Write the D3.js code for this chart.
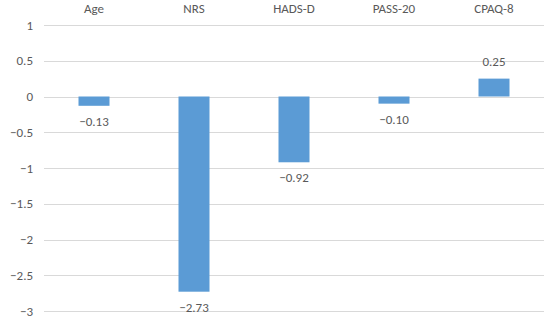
<!DOCTYPE html>
<html>
<head>
<meta charset="utf-8">
<script src="https://cdn.jsdelivr.net/npm/d3@7"></script>
<style>
  body { margin: 0; background: #fff; }
  text { font-family: Calibri, Carlito, "Open Sans", sans-serif; fill: #595959; }
</style>
</head>
<body>
<div id="chart"></div>
<script>
// Chart data
const categories = ['Age', 'NRS', 'HADS-D', 'PASS-20', 'CPAQ-8'];
const values = [-0.13, -2.73, -0.92, -0.10, 0.25];
const valueLabels = ['\u22120.13', '\u22122.73', '\u22120.92', '\u22120.10', '0.25'];
const yTicks = [1, 0.5, 0, -0.5, -1, -1.5, -2, -2.5, -3];
const yTickLabels = ['1', '0.5', '0', '\u22120.5', '\u22121', '\u22121.5', '\u22122', '\u22122.5', '\u22123'];

const width = 550;
const height = 320;
const plotLeft = 44;
const plotRight = 544;
const plotTop = 25;
const plotBottom = 311;

const svg = d3
  .select('#chart')
  .append('svg')
  .attr('width', width)
  .attr('height', height);

const x = d3.scaleBand().domain(categories).range([plotLeft, plotRight]).paddingInner(0.69).paddingOuter(0.345);
const y = d3.scaleLinear().domain([-3, 1]).range([plotBottom, plotTop]);

// Gridlines
svg
  .selectAll('.grid')
  .data(yTicks)
  .enter()
  .append('line')
  .attr('x1', plotLeft)
  .attr('x2', plotRight)
  .attr('y1', (d) => Math.round(y(d)) + 0.5)
  .attr('y2', (d) => Math.round(y(d)) + 0.5)
  .attr('stroke', '#d9d9d9')
  .attr('stroke-width', 1);

// Y tick labels
svg
  .selectAll('.ytick')
  .data(yTicks)
  .enter()
  .append('text')
  .attr('x', 33)
  .attr('y', (d) => y(d) + 4.5)
  .attr('text-anchor', 'end')
  .style('font-size', '13px')
  .text((d, i) => yTickLabels[i]);

// Category labels at top
svg
  .selectAll('.cat')
  .data(categories)
  .enter()
  .append('text')
  .attr('x', (d) => x(d) + x.bandwidth() / 2)
  .attr('y', 13)
  .attr('text-anchor', 'middle')
  .style('font-size', '13px')
  .text((d) => d);

// Bars
svg
  .selectAll('.bar')
  .data(values)
  .enter()
  .append('rect')
  .attr('x', (d, i) => x(categories[i]))
  .attr('y', (d) => y(Math.max(0, d)))
  .attr('width', x.bandwidth())
  .attr('height', (d) => Math.abs(y(d) - y(0)))
  .style('fill', '#5b9bd5');

// Value labels
svg
  .selectAll('.val')
  .data(values)
  .enter()
  .append('text')
  .attr('x', (d, i) => x(categories[i]) + x.bandwidth() / 2)
  .attr('y', (d) => (d < 0 ? y(d) + 20 : y(d) - 13))
  .attr('text-anchor', 'middle')
  .style('font-size', '13px')
  .text((d, i) => valueLabels[i]);
</script>
</body>
</html>
